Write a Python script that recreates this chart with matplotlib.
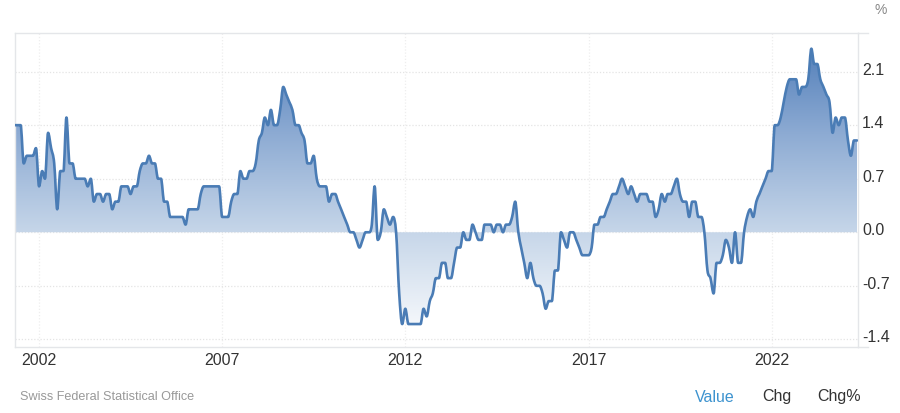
import numpy as np
import pandas as pd
import matplotlib
matplotlib.use("Agg")
import matplotlib.pyplot as plt
import matplotlib.dates as mdates
from matplotlib.colors import LinearSegmentedColormap
from matplotlib.path import Path
from matplotlib.patches import PathPatch
from matplotlib.transforms import ScaledTranslation

plt.rcParams['font.family'] = ['Liberation Sans', 'DejaVu Sans']

# Monthly year-on-year values, May 2001 - May 2024
values_2001_2006 = [1.4,1.4,1.4,0.9,1.0,1.0,1.0,1.1,0.6,0.8,0.7,1.3,1.1,0.9,0.3,0.8,0.8,1.5,0.9,0.9,
                    0.7,0.7,0.7,0.7,0.6,0.7,0.4,0.5,0.5,0.4,0.5,0.5,0.3,0.4,0.4,0.6,0.6,0.6,0.5,0.6,
                    0.6,0.8,0.9,0.9,1.0,0.9,0.9,0.7,0.7,0.4,0.4,0.2,0.2,0.2,0.2,0.2,0.1,0.3,0.3,0.3]
values_2006_2011 = [0.3,0.5,0.6,0.6,0.6,0.6,0.6,0.6,0.2,0.2,0.2,0.4,0.5,0.5,0.8,0.7,0.7,0.8,0.8,0.9,
                    1.2,1.3,1.5,1.4,1.6,1.4,1.4,1.6,1.9,1.8,1.7,1.6,1.4,1.4,1.3,1.2,0.9,0.9,1.0,0.7,
                    0.6,0.6,0.6,0.4,0.5,0.5,0.4,0.3,0.2,0.1,0.0,0.0,-0.1,-0.2,-0.1,0.0,0.0,0.1,0.6,-0.1]
values_2011_2016 = [0.0,0.3,0.2,0.1,0.2,0.0,-0.8,-1.2,-1.0,-1.2,-1.2,-1.2,-1.2,-1.2,-1.0,-1.1,-0.9,-0.8,-0.6,-0.6,
                    -0.4,-0.4,-0.6,-0.6,-0.4,-0.2,-0.2,0.0,-0.1,-0.1,0.1,0.0,-0.1,-0.1,0.1,0.1,0.1,0.0,0.1,0.1,
                    0.0,0.1,0.1,0.2,0.4,0.0,-0.2,-0.4,-0.6,-0.4,-0.6,-0.7,-0.7,-0.8,-1.0,-0.9,-0.9,-0.5,-0.5,0.0]
values_2016_2021 = [-0.1,-0.2,0.0,0.0,-0.1,-0.2,-0.3,-0.3,-0.3,-0.2,0.1,0.1,0.2,0.2,0.3,0.4,0.5,0.5,0.6,0.7,
                    0.6,0.5,0.6,0.5,0.4,0.5,0.5,0.5,0.4,0.4,0.2,0.3,0.5,0.4,0.5,0.5,0.6,0.7,0.5,0.4,
                    0.4,0.2,0.4,0.4,0.2,0.2,0.0,-0.5,-0.6,-0.8,-0.4,-0.4,-0.3,-0.1,-0.2,-0.4,0.0,-0.4,-0.4,0.0]
values_2021_2024 = [0.2,0.3,0.2,0.4,0.5,0.6,0.7,0.8,0.8,1.4,1.4,1.5,1.7,1.9,2.0,2.0,2.0,1.8,1.9,1.9,
                    2.0,2.4,2.2,2.2,2.0,1.9,1.8,1.7,1.3,1.5,1.4,1.5,1.5,1.2,1.0,1.2,1.2]
values = values_2001_2006 + values_2006_2011 + values_2011_2016 + values_2016_2021 + values_2021_2024
start_month = "2001-05-01"
y_ticks = [2.1, 1.4, 0.7, 0.0, -0.7, -1.4]
y_labels = ["2.1", "1.4", "0.7", "0.0", "-0.7", "-1.4"]
x_tick_years = [2002, 2007, 2012, 2017, 2022]
source = "Swiss Federal Statistical Office"

dates = pd.date_range(start_month, periods=len(values), freq="MS")
W, H = 900, 413
fig = plt.figure(figsize=(W/100, H/100), dpi=100, facecolor="white")
L, R, T, B = 14.5, 858, 33, 347
ax = fig.add_axes([L/W, 1-B/H, (R-L)/W, (B-T)/H])
ax.set_ylim(-1.5, 2.605)
ax.set_xlim(dates[0], dates[-1] + pd.Timedelta(days=10))

edge = "#e4e6e9"
for s in ax.spines.values():
    s.set_color(edge); s.set_linewidth(1)
ax.set_yticks(y_ticks, y_labels)
ax.set_xticks([pd.Timestamp(f"{y}-01-01") for y in x_tick_years], [str(y) for y in x_tick_years])
ax.yaxis.tick_right()
ax.tick_params(axis="y", length=0, pad=3, labelsize=11.5, labelcolor="#333333")
ax.tick_params(axis="x", length=0, pad=4, labelsize=11.5, labelcolor="#333333")
ax.grid(True, axis="y", color="#e4e4e4", linestyle=(0, (1, 1.5)), linewidth=0.9)
ax.grid(True, axis="x", color="#eeeeee", linestyle=(0, (1, 1.5)), linewidth=0.9)
ax.set_axisbelow(True)
# y labels sit slightly above their gridlines
for lab in ax.get_yticklabels():
    lab.set_transform(lab.get_transform() + ScaledTranslation(0, 3/72*0.72, fig.dpi_scale_trans))

# Smooth (monotone-tangent) curve through the monthly values
xs = mdates.date2num(dates)
ys = np.array(values, dtype=float)
dx = np.diff(xs)
tang = np.gradient(ys, xs)
d = np.diff(ys) / dx
for i in range(1, len(ys) - 1):
    if d[i-1] * d[i] <= 0:
        tang[i] = 0.0
tang[0] = tang[-1] = 0.0
verts = [(xs[0], ys[0])]
codes = [Path.MOVETO]
for i in range(len(ys) - 1):
    h = dx[i] / 3
    verts += [(xs[i] + h, ys[i] + tang[i] * h), (xs[i+1] - h, ys[i+1] - tang[i+1] * h), (xs[i+1], ys[i+1])]
    codes += [Path.CURVE4] * 3
curve = Path(verts, codes)
area = Path(verts + [(xs[-1], 0.0), (xs[0], 0.0), (xs[0], ys[0])],
            codes + [Path.LINETO, Path.LINETO, Path.LINETO])

cmap = LinearSegmentedColormap.from_list("fill", [
    (0.0, "#ffffff"), (0.365, "#c6d6e9"), (0.68, "#8dabd3"), (1.0, "#4a79b6")])
grad = np.linspace(1, 0, 256).reshape(-1, 1)
xl = ax.get_xlim(); yl = ax.get_ylim()
im = ax.imshow(grad, cmap=cmap, vmin=0, vmax=1, aspect="auto", extent=[xl[0], xl[1], yl[0], yl[1]],
               zorder=2, interpolation="bilinear")
im.set_clip_path(area, transform=ax.transData)
ax.set_xlim(xl); ax.set_ylim(yl)
ax.add_patch(PathPatch(curve, facecolor="none", edgecolor="#4a7cb5", lw=1.9, joinstyle="round",
                       capstyle="round", zorder=3))

# outer rule extends past the plot on the right
for ypix in (T, B):
    ax.plot([1, 1.012], [1-(ypix-T)/(B-T)]*2, transform=ax.transAxes, color=edge, lw=1, clip_on=False)

fig.text(881/W, 1-10/H, "%", color="#888888", fontsize=10, ha="center", va="center")
fig.text(20/W, 1-397/H, source, color="#999999", fontsize=9.1, ha="left", va="center")
fig.text(695/W, 1-397/H, "Value", color="#3d93cf", fontsize=11.5, ha="left", va="center")
fig.text(762/W, 1-397/H, "Chg", color="#333333", fontsize=11.5, ha="left", va="center")
fig.text(817/W, 1-397/H, "Chg%", color="#333333", fontsize=11.5, ha="left", va="center")
fig.savefig("out.png", dpi=100, facecolor="white")
